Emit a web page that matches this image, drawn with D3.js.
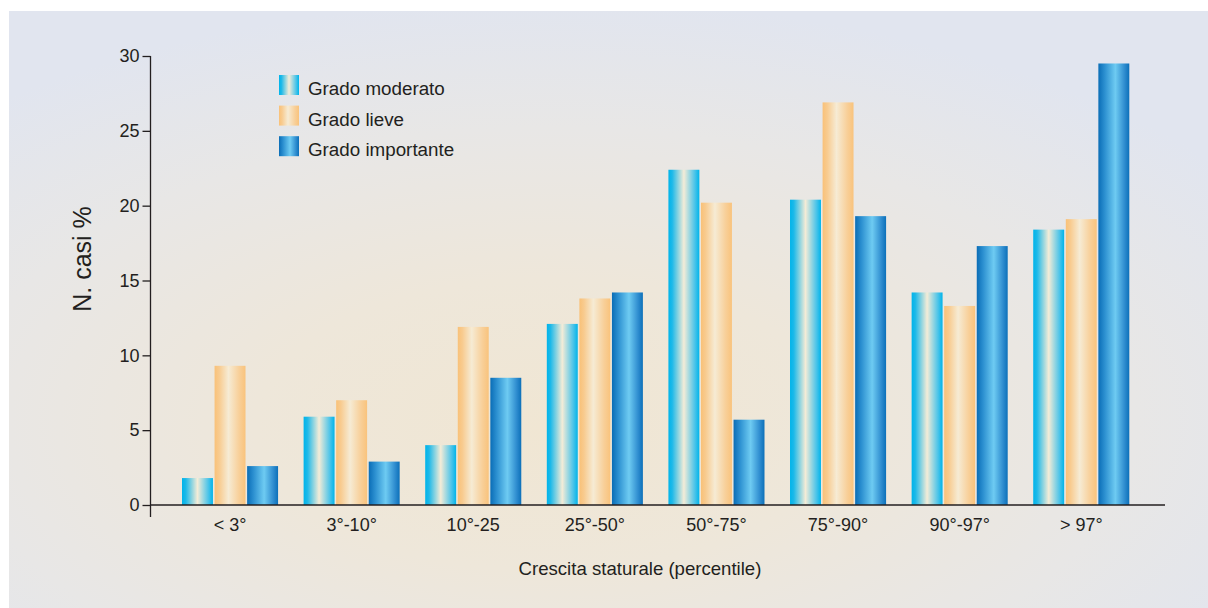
<!DOCTYPE html>
<html>
<head>
<meta charset="utf-8">
<script src="https://cdn.jsdelivr.net/npm/d3@7"></script>
<style>
  html, body { margin: 0; padding: 0; background: #ffffff; }
  svg { display: block; }
  text { font-family: "Liberation Sans", Arial, Helvetica, sans-serif; fill: #231f20; }
</style>
</head>
<body>
<svg id="chart" width="1208" height="608"></svg>
<script>
// Percentile classes of statural growth
const categories = ["< 3°", "3°-10°", "10°-25", "25°-50°", "50°-75°", "75°-90°", "90°-97°", "> 97°"];
// Share of cases (%) per severity grade
const seriesNames = ["Grado moderato", "Grado lieve", "Grado importante"];
const moderato   = [1.8, 5.9, 4.0, 12.1, 22.4, 20.4, 14.2, 18.4];
const lieve      = [9.3, 7.0, 11.9, 13.8, 20.2, 26.9, 13.3, 19.1];
const importante = [2.6, 2.9, 8.5, 14.2, 5.7, 19.3, 17.3, 29.5];
const yTicks = [0, 5, 10, 15, 20, 25, 30];

const seriesValues = [moderato, lieve, importante];
const rows = categories.map((c, i) => ({
  cat: c,
  vals: seriesNames.map((s, j) => ({ key: s, idx: j, value: seriesValues[j][i] }))
}));

const svg = d3.select("#chart");
const defs = svg.append("defs");

// Panel background: soft warm glow in the lower middle fading to grey-blue
const bg = defs.append("radialGradient").attr("id", "bgGrad")
  .attr("cx", 0.45).attr("cy", 0.68).attr("r", 0.7).attr("fx", 0.45).attr("fy", 0.7);
[[0, "#f0e6d3"], [0.35, "#eee7da"], [0.7, "#e8e7e6"], [1, "#e1e5ef"]]
  .forEach(([o, c]) => bg.append("stop").attr("offset", o).attr("stop-color", c));

// Horizontal "cylinder" gradients for each series
const barStops = [
  [[0, "#00b4ea"], [0.12, "#1cb9e9"], [0.5, "#f4ecd7"], [0.85, "#4cc4e9"], [1, "#00b4ea"]],
  [[0, "#f9c178"], [0.15, "#f8cb8f"], [0.45, "#f6ebd4"], [0.8, "#f8cf98"], [1, "#f9c37c"]],
  [[0, "#0a6db6"], [0.2, "#2b8fd0"], [0.55, "#6ecbf2"], [0.85, "#2e8ccf"], [1, "#0c70b9"]]
];
barStops.forEach((stops, j) => {
  const g = defs.append("linearGradient").attr("id", "bar" + j)
    .attr("x1", 0).attr("x2", 1).attr("y1", 0).attr("y2", 0);
  stops.forEach(([o, c]) => g.append("stop").attr("offset", o).attr("stop-color", c));
});

svg.append("rect").attr("x", 9).attr("y", 11).attr("width", 1199).attr("height", 597)
  .attr("fill", "url(#bgGrad)");

const x0 = d3.scaleBand().domain(categories).range([151.6, 1159.7])
  .paddingInner(0.21).paddingOuter(0.25);
const x1 = d3.scaleBand().domain(d3.range(seriesNames.length)).range([0, x0.bandwidth()])
  .paddingInner(0.05);
const y = d3.scaleLinear().domain([0, 30]).range([505, 56]);

// Bars
const groups = svg.append("g").selectAll("g").data(rows).join("g")
  .attr("transform", d => `translate(${x0(d.cat)},0)`);
groups.selectAll("rect").data(d => d.vals).join("rect")
  .attr("x", d => x1(d.idx))
  .attr("y", d => y(d.value))
  .attr("width", x1.bandwidth())
  .attr("height", d => y(0) - y(d.value))
  .attr("fill", d => `url(#bar${d.idx})`);

// Y axis
const yAxis = d3.axisLeft(y).tickValues(yTicks).tickSize(8).tickPadding(3);
const gy = svg.append("g").attr("transform", "translate(150.5,0)").call(yAxis);
gy.select(".domain").remove();
gy.selectAll(".tick line").attr("stroke", "#231f20").attr("stroke-width", 1.3);
gy.selectAll(".tick text").attr("font-size", 18).style("fill", "#231f20")
  .attr("font-family", "Liberation Sans, Arial, sans-serif");
svg.append("line").attr("x1", 150.5).attr("x2", 150.5).attr("y1", y(30)).attr("y2", 517)
  .attr("stroke", "#231f20").attr("stroke-width", 1.3);

// X axis
const xAxis = d3.axisBottom(x0).tickSize(0).tickPadding(13);
const gx = svg.append("g").attr("transform", `translate(0,${y(0)})`).call(xAxis);
gx.select(".domain").remove();
gx.selectAll(".tick text").attr("font-size", 18).style("fill", "#231f20")
  .attr("font-family", "Liberation Sans, Arial, sans-serif");
svg.append("line").attr("x1", 150).attr("x2", 1165).attr("y1", y(0)).attr("y2", y(0))
  .attr("stroke", "#231f20").attr("stroke-width", 1.3);

// Axis titles
svg.append("text").attr("x", 640).attr("y", 575).attr("text-anchor", "middle")
  .attr("font-size", 18.6).text("Crescita staturale (percentile)");
svg.append("text").attr("transform", "translate(91,259) rotate(-90)")
  .attr("text-anchor", "middle").attr("font-size", 25).text("N. casi %");

// Legend
const legend = svg.append("g").attr("transform", "translate(279,75)");
const items = legend.selectAll("g").data(seriesNames).join("g")
  .attr("transform", (d, i) => `translate(0,${i * 30.6})`);
items.append("rect").attr("width", 20).attr("height", 20)
  .attr("fill", (d, i) => `url(#bar${i})`);
items.append("text").attr("x", 29).attr("y", 20).attr("font-size", 18.8).text(d => d);
</script>
</body>
</html>
